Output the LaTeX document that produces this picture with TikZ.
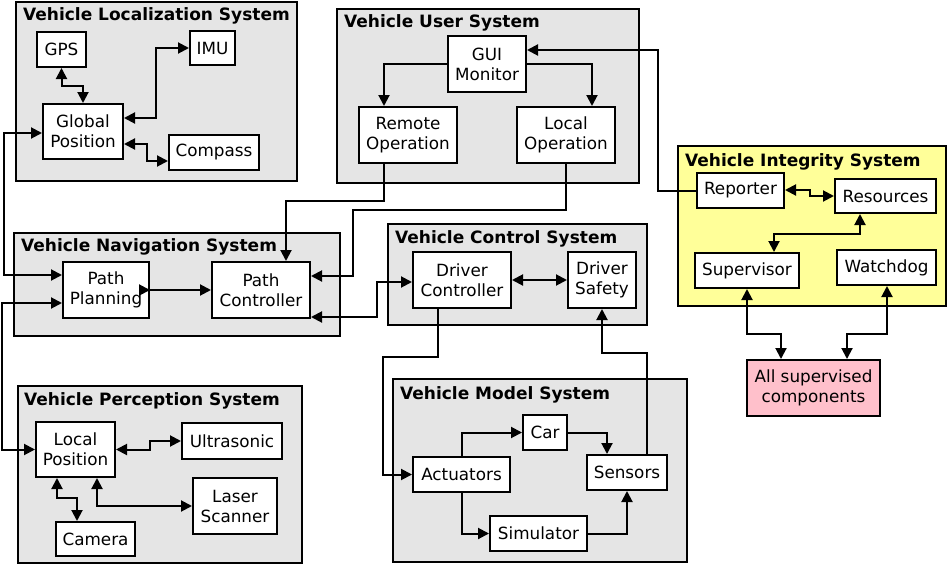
\documentclass[tikz,border=0pt]{standalone}
\usepackage{fontspec}
\setmainfont{DejaVu Sans}
\usetikzlibrary{arrows.meta}
\definecolor{sysgray}{RGB}{229,229,229}
\definecolor{intyellow}{RGB}{255,255,153}
\definecolor{allpink}{RGB}{255,192,203}
\newcommand\bx[7][]{\node[box,#1, minimum width={#5-#3}, minimum height={#6-#4}] (#2) at ({(#3+#5)/2},{(#4+#6)/2}) {#7};}
\newcommand\sysbox[6][]{\node[sys,#1, minimum width={#5-#3}, minimum height={#6-#4}] (#2) at ({(#3+#5)/2},{(#4+#6)/2}) {};}
\begin{document}
\begin{tikzpicture}[x=1pt,y=-1pt,
  box/.style={draw, line width=2pt, fill=white, inner sep=0pt, align=center,
    font=\fontsize{16.8}{20}\selectfont},
  sys/.style={draw, line width=2pt, fill=sysgray, inner sep=0pt},
  systitle/.style={anchor=base west, inner sep=0pt, font=\fontsize{17}{20}\selectfont\bfseries},
  tip/.tip={Triangle[length=11pt,width=11pt]},
  one/.style={line width=2pt, -tip},
  two/.style={line width=2pt, tip-tip},
]
\useasboundingbox (0,0) rectangle (948,565);

% ---------- containers ----------
\sysbox{locsys}{16}{2}{297}{181}
\node[systitle] (loct) at (23,20) {Vehicle Localization System};
\sysbox{usersys}{337}{9}{639}{183}
\node[systitle] (usert) at (344,27) {Vehicle User System};
\sysbox{navsys}{14}{233}{340}{336}
\node[systitle] (navt) at (21,251) {Vehicle Navigation System};
\sysbox{ctrlsys}{388}{224}{647}{325}
\node[systitle] (ctrlt) at (395,243) {Vehicle Control System};
\sysbox{modsys}{393}{379}{687}{562}
\node[systitle] (modt) at (400,399) {Vehicle Model System};
\sysbox{persys}{18}{386}{302}{563}
\node[systitle] (pert) at (24,405) {Vehicle Perception System};
\sysbox[fill=intyellow]{intsys}{678}{146}{946}{306}
\node[systitle] (intt) at (685,166) {Vehicle Integrity System};

% ---------- localization ----------
\bx{gps}{37}{32}{86}{67}{GPS}
\bx{imu}{190}{31}{235}{65}{IMU}
\bx{glob}{43}{104}{123}{159}{Global\\Position}
\bx{comp}{169}{135}{259}{170}{Compass}

% ---------- user ----------
\bx{gui}{448}{36}{526}{92}{GUI\\Monitor}
\bx{rem}{359}{107}{457}{163}{Remote\\Operation}
\bx{lop}{517}{107}{615}{163}{Local\\Operation}

% ---------- navigation ----------
\bx{pp}{63}{262}{149}{318}{Path\\Planning}
\bx{pc}{212}{262}{310}{318}{Path\\Controller}

% ---------- control ----------
\bx{dc}{413}{252}{511}{308}{Driver\\Controller}
\bx{ds}{568}{252}{636}{308}{Driver\\Safety}

% ---------- model ----------
\bx{car}{523}{415}{567}{450}{Car}
\bx{act}{413}{457}{510}{492}{Actuators}
\bx{sen}{587}{455}{667}{490}{Sensors}
\bx{sim}{490}{516}{587}{551}{Simulator}

% ---------- perception ----------
\bx{lp}{36}{422}{115}{477}{Local\\Position}
\bx{ul}{182}{423}{282}{459}{Ultrasonic}
\bx{las}{193}{478}{277}{534}{Laser\\Scanner}
\bx{cam}{56}{522}{135}{556}{Camera}

% ---------- integrity ----------
\bx{rep}{697}{173}{784}{208}{Reporter}
\bx{res}{835}{179}{936}{213}{Resources}
\bx{sup}{695}{253}{799}{288}{Supervisor}
\bx{wd}{837}{250}{936}{285}{Watchdog}
\bx[fill=allpink]{all}{747}{360}{880}{416}{All supervised\\components}

% ---------- connectors: localization ----------
\draw[two] (gps.south) -- (gps.south |- 0,86) -| (glob.north);
\draw[two] (glob.east |- 0,118) -- (156,118) |- (imu.west);
\draw[two] (glob.east |- 0,144) -- (147,144) |- (comp.west |- 0,161);
\draw[two] (glob.west |- 0,133) -- (4,133) |- (pp.west |- 0,275);

% ---------- connectors: user ----------
\draw[one] (gui.west) -| (rem.north -| 384,0);
\draw[one] (gui.east) -| (lop.north -| 592,0);
\draw[one] (rem.south -| 384,0) -- (384,201) -| (pc.north -| 286,0);
\draw[one] (lop.south) -- (lop.south |- 0,210) -- (353,210) |- (pc.east |- 0,276);
\draw[one] (rep.west) -- (658,190.5) |- (gui.east |- 0,50);

% ---------- connectors: navigation / control ----------
\draw[line width=2pt, {Triangle[length=11pt,width=11pt,reversed]}-tip, shorten <=-11pt]
  (pp.east |- 0,290) -- (pc.west |- 0,290);
\draw[two] (pp.west |- 0,303) -- (2,303) |- (lp.west);
\draw[two] (dc.west |- 0,282) -- (377,282) |- (pc.east |- 0,317);
\draw[two] (dc.east) -- (ds.west);
\draw[one] (dc.south -| 438,0) -- (438,357) -- (383,357) |- (act.west);
\draw[one] (sen.north -| 647,0) -- (647,353) -| (ds.south);

% ---------- connectors: model ----------
\draw[one] (act.north) |- (car.west);
\draw[one] (car.east) -| (sen.north -| 607,0);
\draw[one] (act.south) |- (sim.west);
\draw[one] (sim.east) -| (sen.south);

% ---------- connectors: perception ----------
\draw[two] (lp.east) -- (150,449.5) |- (ul.west);
\draw[two] (lp.south -| 57,0) -- (57,498) -| (cam.north -| 77,0);
\draw[two] (lp.south -| 97,0) |- (las.west);

% ---------- connectors: integrity ----------
\draw[two] (rep.east |- 0,190) -- (810,190) |- (res.west);
\draw[two] (sup.north -| 774,0) -- (774,234) -| (res.south -| 860,0);
\draw[two] (sup.south -| 747,0) -- (747,334) -| (all.north -| 781,0);
\draw[two] (wd.south -| 887,0) -- (887,334) -| (all.north -| 847,0);
\end{tikzpicture}
\end{document}
